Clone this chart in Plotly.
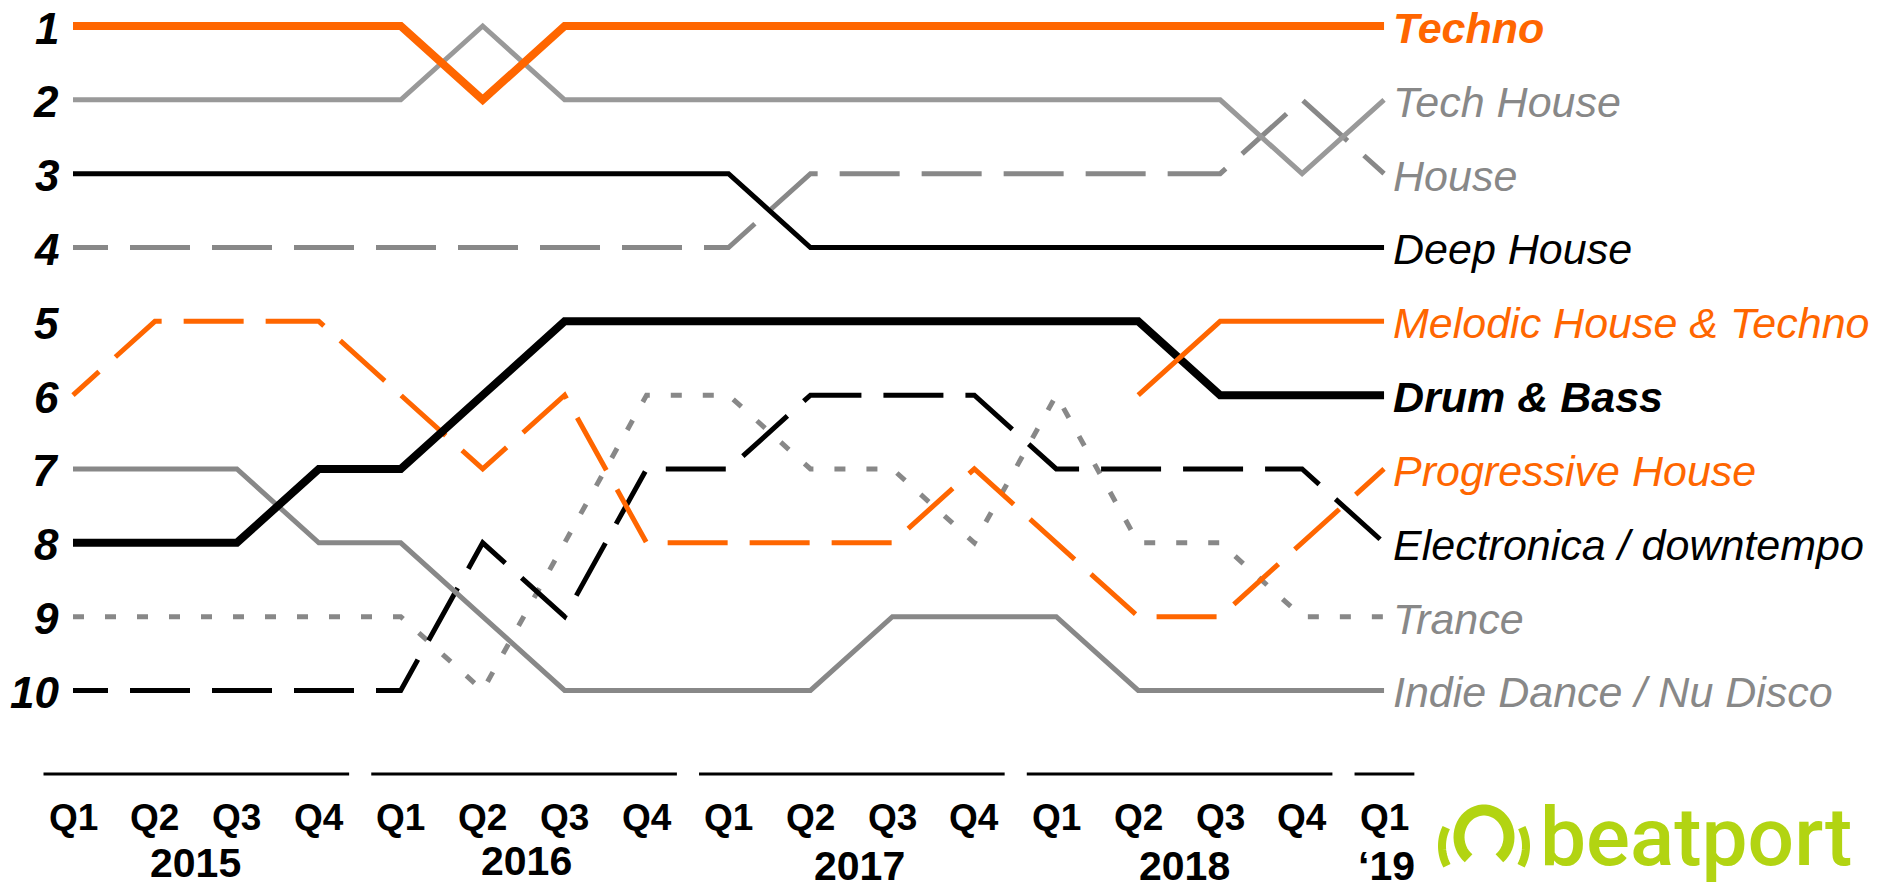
import numpy as np
import plotly.graph_objects as go

W, H = 1897, 890

# ---------------- data ----------------
quarter_labels = ["Q1", "Q2", "Q3", "Q4"] * 4 + ["Q1"]
year_labels = ["2015", "2016", "2017", "2018", "\u201819"]
year_first_q = [0, 4, 8, 12, 16]
year_last_q = [3, 7, 11, 15, 16]
rank_labels = [1, 2, 3, 4, 5, 6, 7, 8, 9, 10]

techno = [1, 1, 1, 1, 1, 2, 1, 1, 1, 1, 1, 1, 1, 1, 1, 1, 1]
tech_house = [2, 2, 2, 2, 2, 1, 2, 2, 2, 2, 2, 2, 2, 2, 2, 3, 2]
house = [4, 4, 4, 4, 4, 4, 4, 4, 4, 3, 3, 3, 3, 3, 3, 2, 3]
deep_house = [3, 3, 3, 3, 3, 3, 3, 3, 3, 4, 4, 4, 4, 4, 4, 4, 4]
melodic = [None] * 13 + [6, 5, 5, 5]
drum_bass = [8, 8, 8, 7, 7, 6, 5, 5, 5, 5, 5, 5, 5, 5, 6, 6, 6]
progressive = [6, 5, 5, 5, 6, 7, 6, 8, 8, 8, 8, 7, 8, 9, 9, 8, 7]
electronica = [10, 10, 10, 10, 10, 8, 9, 7, 7, 6, 6, 6, 7, 7, 7, 7, 8]
trance = [9, 9, 9, 9, 9, 10, 8, 6, 6, 7, 7, 8, 6, 8, 8, 9, 9]
indie = [7, 7, 7, 8, 8, 9, 10, 10, 10, 10, 9, 9, 9, 10, 10, 10, 10]

# ---------------- styling ----------------
ORANGE = "#FF6600"
GREY_L = "#999999"
GREY = "#888888"
BLACK = "#000000"
LOGO = "#B2D412"


def dash_pattern(first, on, off, total=2400):
    parts = [first, off]
    s = first + off
    while s < total:
        parts += [on, off]
        s += on + off
    return ",".join(f"{p}px" for p in parts)


LONG = dash_pattern(35, 60, 22)
DOTS = dash_pattern(11, 11, 21)

# (name, values, color, width, dash, label color, bold) - drawn bottom -> top
series = [
    ("Trance", trance, GREY, 5, DOTS, GREY, False),
    ("Electronica / downtempo", electronica, BLACK, 5, LONG, BLACK, False),
    ("Progressive House", progressive, ORANGE, 5, LONG, ORANGE, False),
    ("House", house, GREY, 5, LONG, GREY, False),
    ("Indie Dance / Nu Disco", indie, GREY, 5, "solid", GREY, False),
    ("Drum & Bass", drum_bass, BLACK, 8, "solid", BLACK, True),
    ("Deep House", deep_house, BLACK, 5, "solid", BLACK, False),
    ("Tech House", tech_house, GREY_L, 5, "solid", GREY, False),
    ("Melodic House & Techno", melodic, ORANGE, 5, "solid", ORANGE, False),
    ("Techno", techno, ORANGE, 8, "solid", ORANGE, True),
]

# pixel geometry of the reference
X0, DX = 73.0, 81.94     # x pixel of quarter 0, pixels per quarter
Y0, DY = 26.0, 73.83     # y pixel of rank 1, pixels per rank


def px_to_rank(py):
    return 1 + (py - Y0) / DY


def px_to_q(px):
    return (px - X0) / DX


FONT = "Liberation Sans, Arial, sans-serif"
xq = list(range(len(quarter_labels)))

fig = go.Figure()
for name, vals, col, wid, dash, lcol, bold in series:
    fig.add_trace(go.Scatter(
        x=xq, y=vals, mode="lines", name=name,
        line=dict(color=col, width=wid, dash=dash),
        connectgaps=False, hoverinfo="skip", showlegend=False,
    ))

annotations = []
# series labels at the right
for name, vals, col, wid, dash, lcol, bold in series:
    annotations.append(dict(
        x=xq[-1], y=vals[-1], xref="x", yref="y", text=name,
        xanchor="left", yanchor="middle", xshift=7, yshift=-2, showarrow=False,
        font=dict(family=FONT, size=43, color=lcol, style="italic",
                  weight="bold" if bold else "normal"),
    ))

# rank labels
for r in rank_labels:
    annotations.append(dict(
        x=0, y=r, xref="x", yref="y", text=str(r), xanchor="right",
        yanchor="middle", xshift=-12, yshift=-2, showarrow=False,
        font=dict(family=FONT, size=44, color=BLACK, style="italic", weight="bold"),
    ))

# quarter labels
for i, q in enumerate(quarter_labels):
    annotations.append(dict(
        x=i, y=px_to_rank(817), xref="x", yref="y", text=q, xanchor="center",
        yanchor="middle", showarrow=False,
        font=dict(family=FONT, size=37, color=BLACK, weight="bold"),
    ))

# year labels
year_shift = [(0, 0), (3, 2), (8, -3), (5, -3), (2, -3)]
for lab, a, b, (sx, sy) in zip(year_labels, year_first_q, year_last_q, year_shift):
    annotations.append(dict(
        x=(a + b) / 2, y=px_to_rank(863), xref="x", yref="y", text=lab,
        xanchor="center", yanchor="middle", xshift=sx, yshift=sy, showarrow=False,
        font=dict(family=FONT, size=41, color=BLACK, weight="bold"),
    ))

shapes = []
# year separator lines
for a, b in zip(year_first_q, year_last_q):
    shapes.append(dict(
        type="line", xref="x", yref="y", x0=a - 0.36, x1=b + 0.37,
        y0=px_to_rank(774), y1=px_to_rank(774),
        line=dict(color=BLACK, width=3),
    ))


# ---------------- beatport logo ----------------
def ppx(px):
    return px / W


def ppy(py):
    return 1 - py / H


def arc_path(cx, cy, rx, ry, a0, a1, n=40):
    th = np.radians(np.linspace(a0, a1, n))
    xs = cx + rx * np.sin(th)
    ys = cy - ry * np.cos(th)
    pts = [f"{ppx(x):.5f},{ppy(y):.5f}" for x, y in zip(xs, ys)]
    return "M" + " L".join(pts)


LX, LY = 1430, 795
shapes.append(dict(type="path", xref="paper", yref="paper",
                   path=arc_path(LX + 54, LY + 42, 25, 27, -142, 142),
                   line=dict(color=LOGO, width=11)))
shapes.append(dict(type="path", xref="paper", yref="paper",
                   path=arc_path(LX + 54, LY + 51, 42, 42, -118, -64, 20),
                   line=dict(color=LOGO, width=8)))
shapes.append(dict(type="path", xref="paper", yref="paper",
                   path=arc_path(LX + 54, LY + 51, 42, 42, 64, 118, 20),
                   line=dict(color=LOGO, width=8)))
annotations.append(dict(
    x=ppx(LX + 108), y=ppy(LY + 42), xref="paper", yref="paper", text="beatport",
    xanchor="left", yanchor="middle", showarrow=False,
    font=dict(family="Roboto, sans-serif", size=82, color=LOGO, weight=500),
))

fig.update_layout(
    width=W, height=H,
    margin=dict(l=0, r=0, t=0, b=0),
    paper_bgcolor="white", plot_bgcolor="white",
    xaxis=dict(range=[px_to_q(0), px_to_q(W)], visible=False, fixedrange=True),
    yaxis=dict(range=[px_to_rank(H), px_to_rank(0)], visible=False, fixedrange=True),
    annotations=annotations, shapes=shapes, showlegend=False,
)

fig.write_html("out.html", config={"displayModeBar": False})
